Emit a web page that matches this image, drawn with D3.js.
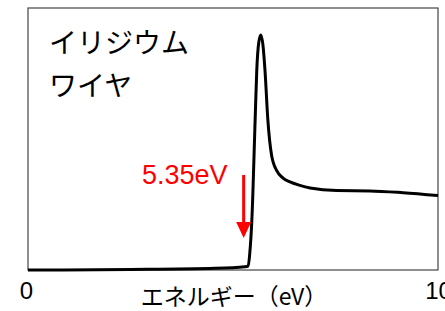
<!DOCTYPE html>
<html>
<head>
<meta charset="utf-8">
<script src="https://cdn.jsdelivr.net/npm/d3@7"></script>
<style>
  body { margin: 0; background: #fff; }
  svg { display: block; }
</style>
</head>
<body>
<script>
// spectrum: energy (eV) vs intensity (arb., 0-100)
var energy    = [0, 2.5, 4.56, 5.29, 5.37, 5.41, 5.46, 5.54, 5.58, 5.63, 5.68, 5.73, 5.78, 5.85, 5.94, 6.07, 6.22, 6.39, 6.63, 6.88, 7.53, 8.34, 9.15, 10];
var intensity = [0, 0.2, 0.65, 1.26, 1.5, 6.5, 19.1, 57.3, 76.3, 87, 89.7, 85.9, 76.3, 57.3, 43.9, 37.8, 35.1, 33.6, 32.3, 31.3, 30.3, 30.2, 29.5, 28.4];
var xTicks = [0, 10];
var titleLines = ["イリジウム", "ワイヤ"];
var onsetLabel = "5.35eV";
var onsetEnergy = 5.26;
var xLabel = "エネルギー（eV）";

var w = 445, h = 311;
var m = { left: 28, right: 438, top: 8, bottom: 270 };

var svg = d3.select("body").append("svg")
            .attr("width", w)
            .attr("height", h);

var x = d3.scaleLinear().domain([0, 10]).range([m.left, m.right]);
var y = d3.scaleLinear().domain([0, 100]).range([m.bottom, m.top]);

// frame
svg.append("rect")
   .attr("x", m.left).attr("y", m.top)
   .attr("width", m.right - m.left).attr("height", m.bottom - m.top)
   .attr("fill", "none")
   .attr("stroke", "#444")
   .attr("stroke-width", 1.2);

// spectrum
var pts = energy.map(function(e, i) { return [e, intensity[i]]; });
var line = d3.line()
             .x(function(d) { return x(d[0]); })
             .y(function(d) { return y(d[1]); })
             .curve(d3.curveMonotoneX);

svg.append("path")
   .datum(pts)
   .attr("d", line)
   .attr("fill", "none")
   .attr("stroke", "#000")
   .attr("stroke-width", 3)
   .attr("stroke-linejoin", "round");

// x axis: only end labels
var ax = svg.append("g")
            .attr("transform", "translate(0," + (m.bottom + 9) + ")")
            .call(d3.axisBottom(x).tickValues(xTicks).tickSize(0).tickFormat(d3.format("d")));
ax.select(".domain").remove();
ax.selectAll("text")
  .attr("fill", "#000")
  .attr("font-family", "Liberation Sans, Arial, sans-serif")
  .attr("font-size", 24);
ax.selectAll(".tick").filter(function(d) { return d === 0; }).select("text").attr("dx", -2);

svg.append("text")
   .attr("x", 234).attr("y", 305)
   .attr("text-anchor", "middle")
   .attr("font-family", "Noto Sans CJK JP, sans-serif")
   .attr("font-size", 23)
   .text(xLabel);

// title
svg.append("g").selectAll("text")
   .data(titleLines)
   .enter().append("text")
   .attr("x", 49)
   .attr("y", function(d, i) { return 53 + i * 43; })
   .attr("font-family", "Noto Sans CJK JP, sans-serif")
   .attr("font-size", 28)
   .text(function(d) { return d; });

// onset marker
var ax0 = x(onsetEnergy);
svg.append("text")
   .attr("x", 142).attr("y", 184)
   .attr("fill", "#ff0000")
   .attr("font-family", "Liberation Sans, Arial, sans-serif")
   .attr("font-size", 27)
   .text(onsetLabel);

svg.append("line")
   .attr("x1", ax0).attr("x2", ax0)
   .attr("y1", 175).attr("y2", 224)
   .attr("stroke", "#ff0000")
   .attr("stroke-width", 3);

svg.append("path")
   .attr("d", "M" + (ax0 - 7.5) + ",222 L" + (ax0 + 7.5) + ",222 L" + ax0 + ",238 Z")
   .attr("fill", "#ff0000");
</script>
</body>
</html>
